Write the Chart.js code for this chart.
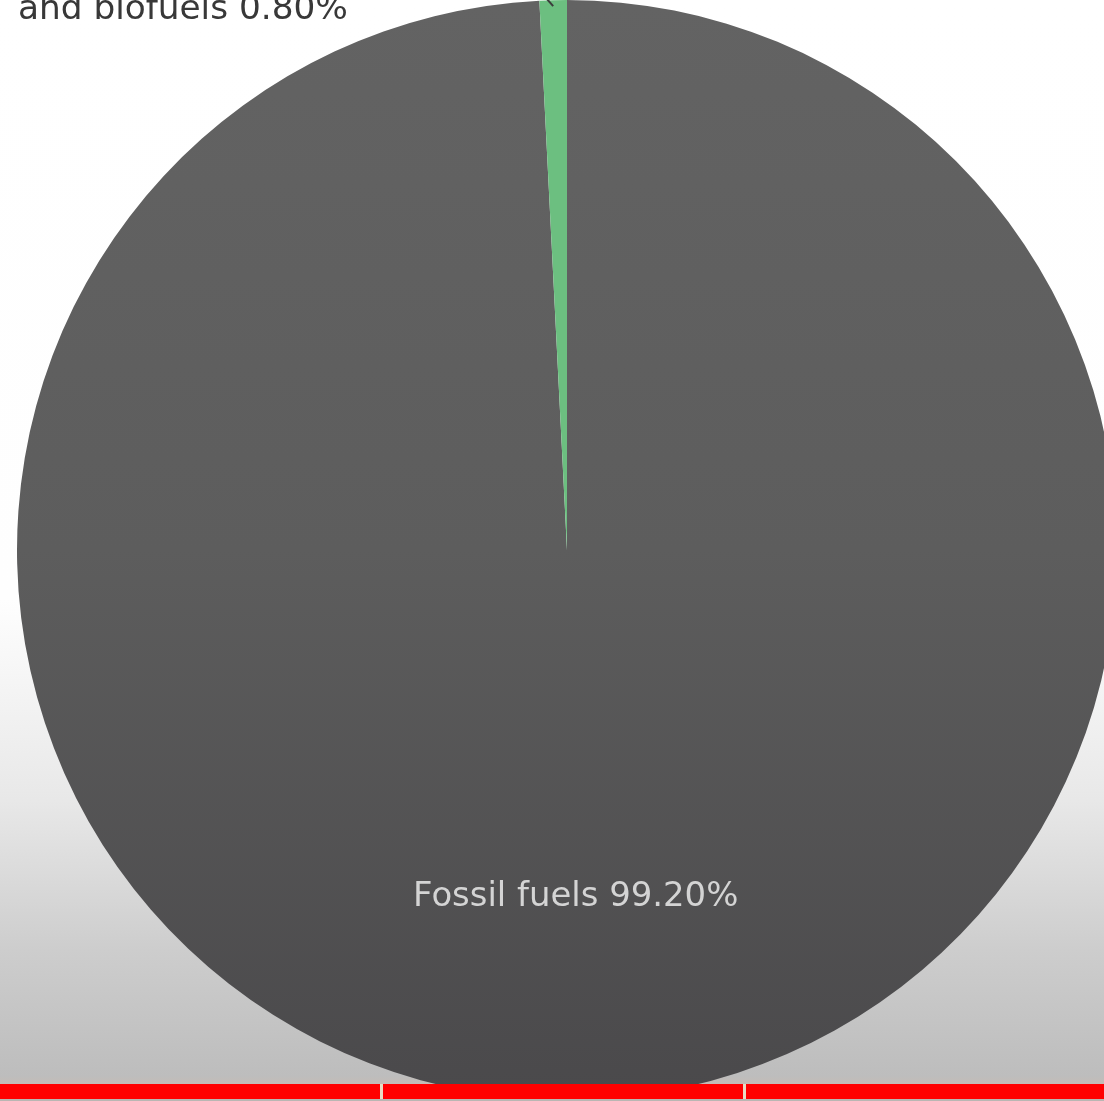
<!DOCTYPE html>
<html>
<head>
<meta charset="utf-8">
<script src="https://cdn.jsdelivr.net/npm/chart.js@4.4.1/dist/chart.umd.min.js"></script>
<style>
  html, body { margin: 0; padding: 0; width: 1104px; height: 1101px; overflow: hidden; }
  body { background: linear-gradient(to bottom, #ffffff 0px, #fefefe 600px, #e8e8e8 800px, #cdcdcd 950px, #bdbdbd 1076px, #c4bcb6 1084px); position: relative; }
  #wrap { position: absolute; left: 0; top: 0; width: 1134px; height: 1100px; }
  #bar { position: absolute; left: 0; top: 1084px; width: 1104px; height: 15px; background: #ff0000; }
  #bar .sep { position: absolute; top: 0; width: 3px; height: 15px; background: #e9dcc4; }
  #foot { position: absolute; left: 0; top: 1099px; width: 1104px; height: 2px; background: #b9b6b3; }
</style>
</head>
<body>
<div id="wrap"><canvas id="chart"></canvas></div>
<div id="bar"><div class="sep" style="left:380px"></div><div class="sep" style="left:743px"></div></div>
<div id="foot"></div>
<script>
// data
var categories = ['Fossil fuels', 'and biofuels'];
var shares = [99.2, 0.8];
var shareLabels = ['99.20%', '0.80%'];

// pick a font size so the text spans the wanted width
function fitFont(ctx, text, width, weight, family) {
    ctx.font = weight + ' 30px ' + family;
    var size = 30 * width / ctx.measureText(text).width;
    ctx.font = weight + ' ' + size.toFixed(1) + 'px ' + family;
}

// Draw slice labels: fossil inside, the small one out at top-left with a leader line.
var sliceLabels = {
    id: 'sliceLabels',
    afterDatasetsDraw: function(chart) {
        var ctx = chart.ctx;
        var arcs = chart.getDatasetMeta(0).data;
        var family = '"DejaVu Sans", sans-serif';

        // big slice label, inside the pie
        var a = arcs[0];
        var mid = (a.startAngle + a.endAngle) / 2;
        var r = a.outerRadius * 0.632;
        var t0 = categories[0] + ' ' + shareLabels[0];
        ctx.save();
        fitFont(ctx, t0, 325, 'normal', family);
        ctx.fillStyle = '#d4d4d4';
        ctx.textAlign = 'center';
        ctx.textBaseline = 'middle';
        ctx.fillText(t0, a.x + Math.cos(mid) * r, a.y + Math.sin(mid) * r);
        ctx.restore();

        // small slice, leader line out of the top edge
        var b = arcs[1];
        var midB = (b.startAngle + b.endAngle) / 2;
        var ex = b.x + Math.cos(midB) * b.outerRadius;
        var ey = b.y + Math.sin(midB) * b.outerRadius;
        var t1 = categories[1] + ' ' + shareLabels[1];
        ctx.save();
        ctx.strokeStyle = '#3c3c3c';
        ctx.lineWidth = 2;
        ctx.beginPath();
        ctx.moveTo(ex, ey + 6);
        ctx.lineTo(ex - 14, ey - 10);
        ctx.stroke();
        fitFont(ctx, t1, 330, 'normal', family);
        ctx.fillStyle = '#383838';
        ctx.textAlign = 'left';
        ctx.textBaseline = 'alphabetic';
        ctx.fillText(t1, a.x - a.outerRadius + 1, 19);
        ctx.restore();
    }
};

function sliceFill(context) {
    if (context.dataIndex === 1) return '#6cbf80';
    var chart = context.chart;
    var area = chart.chartArea;
    if (!area) return '#5f5f5f';
    var g = chart.ctx.createLinearGradient(0, area.top, 0, area.bottom);
    g.addColorStop(0, '#636363');
    g.addColorStop(0.5, '#5d5d5d');
    g.addColorStop(1, '#4a494b');
    return g;
}

new Chart(document.getElementById('chart'), {
    type: 'pie',
    data: {
        labels: categories,
        datasets: [{
            data: shares,
            backgroundColor: sliceFill,
            borderWidth: 0
        }]
    },
    options: {
        responsive: true,
        maintainAspectRatio: false,
        animation: false,
        layout: { padding: 0 },
        plugins: {
            legend: { display: false },
            tooltip: { enabled: false }
        }
    },
    plugins: [sliceLabels]
});
</script>
</body>
</html>
